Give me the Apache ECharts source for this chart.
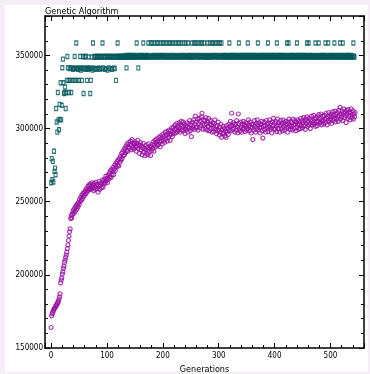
<!DOCTYPE html>
<html>
<head>
<meta charset="utf-8">
<script src="https://cdn.jsdelivr.net/npm/echarts@6/dist/echarts.min.js"></script>
<style>
  html, body { margin: 0; padding: 0; background: #f6eef6; }
  #chart { position: absolute; left: 5px; top: 5px; width: 363px; height: 367px; background: #fff; }
</style>
</head>
<body>
<div id="chart"></div>
<script>
// best fitness per generation (teal squares)
var bestFitness = [
  263000, 279500, 265000, 277600, 263500, 284500, 270800, 273000, 268500, 313800,
  304500, 297600, 324700, 306000, 299200, 316600, 306300, 331400, 306000, 316000,
  341600, 347500, 331400, 324000, 324700, 328500, 313800, 324500, 333000, 349300,
  341600, 333000, 324700, 341000, 333000, 341500, 324700, 333000, 341500, 340500,
  333000, 341000, 349300, 333000, 341500, 358500, 341000, 333000, 340500, 341500,
  333000, 341000, 349300, 340000, 341500, 333000, 341000, 349300, 324000, 341500,
  349000, 340500, 349500, 341000, 333000, 341500, 340500, 349000, 341000, 341500,
  324000, 333000, 341000, 349000, 340000, 358500, 341500, 349000, 341000, 349500,
  340500, 349000, 349000, 341000, 349500, 341500, 349000, 340500, 349000, 349500,
  341000, 349000, 358500, 341500, 349000, 349500, 340500, 349000, 341000, 349500,
  349000, 340000, 349000, 341500, 349500, 349000, 341000, 349000, 349500, 340500,
  349000, 349000, 341500, 349500, 341000, 349000, 333000, 349000, 349500, 358500,
  349000, 349000, 349500, 349000, 349000, 349500, 349000, 349000, 349500, 349000,
  349000, 349500, 349000, 350000, 349000, 341500, 349500, 349000, 350000, 349000,
  349500, 349000, 350000, 349500, 349000, 349000, 350000, 349500, 349000, 349500,
  349000, 350000, 349000, 358500, 349500, 349000, 341500, 349500, 350000, 349000,
  349500, 349000, 350000, 349500, 349000, 358500, 349500, 349000, 350000, 349000,
  349500, 349000, 349500, 350000, 358500, 349000, 349500, 349000, 358500, 349500,
  349000, 358500, 350000, 349500, 349000, 358500, 349500, 349000, 350000, 358500,
  349000, 349500, 358500, 349000, 350000, 349500, 358500, 349000, 349500, 350000,
  358500, 349000, 349500, 358500, 349000, 350000, 349500, 358500, 349000, 349500,
  349000, 358500, 350000, 349000, 358500, 349500, 349000, 350000, 358500, 349000,
  349500, 349000, 358500, 350000, 349500, 349000, 358500, 349000, 349500, 358500,
  350000, 349000, 349500, 358500, 349000, 350000, 349500, 358500, 349000, 349500,
  350000, 358500, 349000, 349500, 349000, 358500, 349500, 350000, 349000, 349500,
  349000, 350000, 358500, 349000, 349500, 349000, 358500, 350000, 349500, 358500,
  349000, 349500, 350000, 358500, 349000, 349500, 349000, 358500, 350000, 349500,
  358500, 349000, 349500, 349000, 358500, 349500, 350000, 349000, 349500, 349000,
  358500, 349000, 349500, 350000, 358500, 349000, 349500, 349000, 358500, 350000,
  349500, 358500, 349000, 349500, 350000, 358500, 349000, 349500, 349000, 358500,
  350000, 349500, 358500, 349000, 349500, 358500, 349000, 350000, 349500, 349000,
  349500, 350000, 349000, 349500, 349000, 350000, 349500, 349000, 349500, 358500,
  349000, 350000, 349500, 349000, 349500, 350000, 349000, 349500, 349000, 350000,
  349500, 349000, 349500, 350000, 349000, 349500, 358500, 349000, 350000, 349500,
  349000, 349500, 350000, 349000, 349500, 349000, 350000, 349500, 349000, 349500,
  350000, 349000, 358500, 349500, 349000, 350000, 349500, 349000, 349500, 350000,
  349000, 349500, 349000, 350000, 349500, 349000, 349500, 350000, 349000, 349500,
  358500, 349000, 350000, 349500, 349000, 349500, 350000, 349000, 349500, 349000,
  350000, 349500, 349000, 349500, 350000, 349000, 349500, 349000, 358500, 350000,
  349500, 349000, 349500, 350000, 349000, 349500, 349000, 350000, 349500, 349000,
  349500, 350000, 349000, 349500, 358500, 349000, 350000, 349500, 349000, 349500,
  350000, 349000, 349500, 349000, 350000, 349500, 349000, 349500, 350000, 349000,
  349500, 349000, 358500, 349500, 350000, 358500, 349000, 349500, 349000, 350000,
  349500, 349000, 349500, 350000, 349000, 349500, 349000, 350000, 349500, 349000,
  358500, 349500, 350000, 349000, 349500, 349000, 350000, 349500, 349000, 349500,
  350000, 349000, 349500, 349000, 350000, 349500, 349000, 349500, 358500, 350000,
  349000, 358500, 349500, 349000, 350000, 349500, 349000, 349500, 350000, 349000,
  349500, 349000, 349500, 358500, 349000, 350000, 349500, 349000, 349500, 358500,
  349000, 349500, 350000, 349000, 349500, 349000, 350000, 349500, 349000, 349500,
  350000, 358500, 349000, 349500, 349000, 350000, 358500, 349500, 349000, 349500,
  349000, 350000, 349500, 349000, 349500, 350000, 349000, 358500, 349500, 349000,
  350000, 349500, 349000, 349500, 349000, 350000, 349500, 358500, 349000, 349500,
  350000, 349000, 358500, 349500, 349000, 350000, 349500, 349000, 349500, 350000,
  349000, 349500, 349000, 350000, 349500, 349000, 349500, 350000, 349000, 349500,
  349000, 358500, 349500, 349000
];

// average fitness per generation (purple circles)
var avgFitness = [
  164000, 172000, 173500, 174500, 175500, 176500, 177000, 177500, 178500, 179000,
  179500, 180500, 181000, 182000, 183500, 185000, 187000, 194500, 196500, 198000,
  200500, 202000, 204500, 206000, 208500, 210000, 212000, 213500, 215500, 218000,
  220500, 223500, 226500, 229500, 231500, 238500, 240500, 239000, 241500, 243000,
  244500, 242000, 245500, 243500, 246500, 247500, 245000, 248500, 246500, 249500,
  248000, 251500, 250000, 253000, 251000, 254500, 252000, 255500, 253500, 256500,
  254500, 257500, 255500, 259000, 256500, 258000, 260500, 258000, 261500, 259000,
  262000, 258500, 260500, 263000, 259500, 261500, 257500, 262500, 260000, 258500,
  263500, 261000, 259000, 262000, 256500, 260500, 264000, 258500, 261500, 263000,
  259500, 262500, 265000, 260000, 264000, 262000, 265500, 263000, 267500, 264500,
  266000, 263000, 268000, 265500, 269500, 267000, 271000, 266500, 272000, 268500,
  270500, 273500, 268500, 272500, 275000, 271500, 276500, 273500, 277500, 275000,
  278500, 274500, 279500, 277000, 281000, 278500, 283000, 279500, 284000, 281500,
  285500, 282000, 286500, 283500, 288000, 285000, 289500, 284500, 287500, 290500,
  286500, 289000, 291500, 285500, 288500, 292500, 287000, 290000, 286000, 289500,
  291000, 287500, 284500, 290000, 288000, 292000, 286500, 289000, 283000, 288500,
  290500, 285500, 288000, 282000, 287000, 290000, 284000, 286500, 281500, 285500,
  288500, 283000, 287000, 282000, 289500, 284500, 286000, 288000, 281500, 287500,
  285000, 289000, 286500, 291000, 284500, 288500, 292000, 287500, 290500, 293000,
  288500, 291500, 289000, 294000, 290500, 287500, 295000, 291500, 293500, 289500,
  296000, 292000, 294500, 290500, 297500, 293000, 295500, 298000, 291500, 296500,
  294000, 299000, 295500, 292000, 298500, 296000, 300500, 294500, 297500, 301000,
  296500, 299500, 302500, 297000, 300000, 303500, 298000, 301500, 299000, 304000,
  300500, 297500, 302500, 305000, 299000, 301500, 304500, 298500, 303000, 300000,
  296500, 302000, 299500, 304000, 301000, 297500, 303500, 300500, 305500, 298500,
  302500, 294500, 300000, 304500, 301500, 306000, 299500, 303000, 308500, 300500,
  304500, 301000, 306500, 299000, 303500, 307000, 300500, 305000, 302000, 308000,
  310500, 303500, 299500, 306000, 302500, 305500, 300000, 307500, 303000, 299000,
  304500, 301500, 307000, 298500, 303000, 305500, 300000, 302500, 297500, 304000,
  300500, 298000, 303500, 306000, 299500, 301500, 296500, 302000, 298500, 304500,
  299000, 295500, 301000, 297500, 303000, 294000, 299500, 296500, 301500, 297000,
  300000, 295000, 298500, 294000, 302000, 297500, 300500, 296000, 303000, 299000,
  301500, 305000, 298500, 310500, 302000, 299500, 304000, 300500, 303000, 297500,
  302500, 299000, 305500, 301000, 297000, 310000, 303500, 300000, 298500, 304500,
  301000, 297500, 303000, 299500, 305000, 300500, 302500, 298000, 304000, 301500,
  299000, 303500, 300000, 306000, 302000, 298500, 304500, 301000, 297000, 303000,
  300500, 292500, 302500, 299000, 305500, 301500, 297500, 303500, 300000, 306000,
  302500, 299000, 304000, 300500, 297000, 303000, 301000, 305000, 298500, 293500,
  301500, 304500, 299500, 302000, 297500, 305500, 300500, 303000, 298000, 304000,
  301000, 306000, 299500, 303500, 300500, 297000, 304500, 302000, 307000, 300000,
  303500, 299500, 305000, 301500, 298000, 306500, 302500, 300000, 304000, 297500,
  302000, 305500, 300000, 303500, 298500, 306000, 301500, 304000, 299000, 302500,
  305000, 300500, 303000, 297500, 304500, 301000, 306500, 302000, 299500, 305000,
  301500, 304000, 299000, 306500, 302500, 300000, 305500, 303000, 298500, 304500,
  301000, 306000, 302500, 299500, 305000, 303000, 300000, 307000, 302000, 305500,
  300500, 304000, 307500, 302000, 305500, 299500, 306500, 303500, 308000, 301500,
  305000, 302500, 307000, 303500, 300000, 306000, 308500, 302500, 305500, 304000,
  309000, 303000, 306500, 301500, 307500, 304500, 302000, 308000, 305000, 309500,
  303500, 307000, 304500, 310000, 302500, 306000, 308500, 305000, 303000, 309000,
  306500, 304000, 310500, 307000, 302500, 308000, 305500, 311000, 304500, 308500,
  306000, 310000, 303500, 308000, 311500, 305500, 309000, 307000, 312000, 304500,
  309500, 306500, 311000, 308000, 305000, 312500, 309000, 314500, 306500, 310000,
  308000, 312000, 305500, 310500, 313500, 307500, 311000, 309000, 304000, 312500,
  310000, 307000, 313000, 308500, 311500, 306000, 310500, 313500, 307500, 309500,
  312000, 306500, 310000, 308000, 311000
];

var yTicks = [150000, 200000, 250000, 300000, 350000];

var chart = echarts.init(document.getElementById("chart"));

var font = "'DejaVu Sans Condensed', 'DejaVu Sans', sans-serif";

function pairs(arr) {
  return arr.map(function(v, i) {
    return [i, v];
  });
}

var lineStyle = { color: "#000", width: 1.5 };

var option = {
  animation: false,
  title: {
    text: "Genetic Algorithm",
    left: 40,
    top: 2,
    padding: 0,
    textStyle: { fontFamily: font, fontSize: 9, fontWeight: "normal", color: "#000" }
  },
  grid: { left: 40, right: 4, top: 11, bottom: 24, containLabel: false, outerBoundsMode: "none" },
  xAxis: [
    {
      type: "value",
      min: -11,
      max: 560,
      splitNumber: 6,
      name: "Generations",
      nameLocation: "middle",
      nameGap: 14,
      nameTextStyle: { fontFamily: font, fontSize: 9, color: "#000" },
      axisLine: { onZero: false, lineStyle: lineStyle },
      axisTick: { inside: true, length: 5, lineStyle: { color: "#000" } },
      minorTick: { show: true, splitNumber: 5, length: 3, lineStyle: { color: "#000" } },
      axisLabel: { fontFamily: font, fontSize: 8, color: "#000", margin: 4, showMinLabel: false, showMaxLabel: false },
      splitLine: { show: false }
    },
    {
      type: "value",
      position: "top",
      min: -11,
      max: 560,
      splitNumber: 6,
      axisLine: { onZero: false, lineStyle: lineStyle },
      axisTick: { inside: true, length: 5, lineStyle: { color: "#000" } },
      minorTick: { show: true, splitNumber: 5, length: 3, lineStyle: { color: "#000" } },
      axisLabel: { show: false },
      splitLine: { show: false }
    }
  ],
  yAxis: [
    {
      type: "value",
      min: yTicks[0],
      max: 377000,
      interval: 50000,
      name: "Fitness Value",
      nameLocation: "middle",
      nameGap: 35,
      nameTextStyle: { fontFamily: "'DejaVu Sans', sans-serif", fontSize: 10, color: "#000" },
      axisLine: { onZero: false, lineStyle: lineStyle },
      axisTick: { inside: true, length: 5, lineStyle: { color: "#000" } },
      minorTick: { show: true, splitNumber: 5, length: 3, lineStyle: { color: "#000" } },
      axisLabel: {
        fontFamily: font,
        fontSize: 8,
        color: "#000",
        margin: 2,
        showMaxLabel: false,
        formatter: function(v) {
          return String(v);
        }
      },
      splitLine: { show: false }
    },
    {
      type: "value",
      position: "right",
      min: yTicks[0],
      max: 377000,
      interval: 50000,
      axisLine: { onZero: false, lineStyle: lineStyle },
      axisTick: { inside: true, length: 5, lineStyle: { color: "#000" } },
      minorTick: { show: true, splitNumber: 5, length: 3, lineStyle: { color: "#000" } },
      axisLabel: { show: false },
      splitLine: { show: false }
    }
  ],
  series: [
    {
      name: "Best",
      type: "scatter",
      data: pairs(bestFitness),
      symbol: "rect",
      symbolSize: [3, 4],
      itemStyle: { color: "rgba(255,255,255,0)", borderColor: "#03575a", borderWidth: 1.2 }
    },
    {
      name: "Average",
      type: "scatter",
      data: pairs(avgFitness),
      symbol: "circle",
      symbolSize: 4,
      itemStyle: { color: "rgba(255,255,255,0)", borderColor: "#9a0ea3", borderWidth: 1.2 }
    }
  ]
};

chart.setOption(option);
</script>
</body>
</html>
